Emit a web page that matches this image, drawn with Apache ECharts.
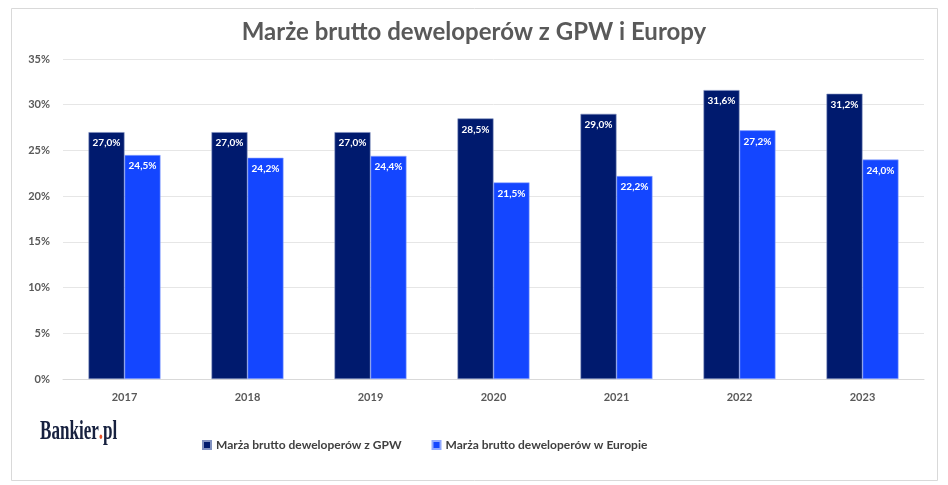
<!DOCTYPE html>
<html>
<head>
<meta charset="utf-8">
<script src="https://cdn.jsdelivr.net/npm/echarts@6/dist/echarts.min.js"></script>
<style>
  html, body { margin: 0; padding: 0; background: #fff; }
  #chart { width: 948px; height: 485px; }
</style>
</head>
<body>
<div id="chart"></div>
<script>
var years = ['2017', '2018', '2019', '2020', '2021', '2022', '2023'];
var gpw = [27.0, 27.0, 27.0, 28.5, 29.0, 31.6, 31.2];
var europe = [24.5, 24.2, 24.4, 21.5, 22.2, 27.2, 24.0];
var yTicks = [0, 5, 10, 15, 20, 25, 30, 35];

var chart = echarts.init(document.getElementById('chart'));

function pct(p) {
    return p.value.toFixed(1).replace('.', ',') + '%';
}

var labelStyle = {
    show: true,
    position: 'insideTop',
    distance: 6,
    color: '#fff',
    fontSize: 10,
    fontWeight: 'bold',
    fontFamily: 'Lato',
    formatter: pct
};

var option = {
    backgroundColor: '#fff',
    animation: false,
    title: {
        text: 'Marże brutto deweloperów z GPW i Europy',
        left: 'center',
        top: 15,
        textStyle: {
            color: '#595959',
            fontSize: 24,
            fontWeight: 'bold',
            fontFamily: 'Lato'
        }
    },
    grid: {
        left: 63,
        right: 24,
        top: 59,
        bottom: 106
    },
    legend: {
        left: 197,
        top: 434,
        itemWidth: 8,
        itemHeight: 8,
        itemGap: 30,
        icon: 'rect',
        textStyle: {
            color: '#404040',
            fontSize: 12,
            fontFamily: 'Lato',
            fontWeight: 'bold'
        },
        data: ['Marża brutto deweloperów z GPW', 'Marża brutto deweloperów w Europie']
    },
    xAxis: {
        type: 'category',
        data: years,
        axisLine: { lineStyle: { color: '#d9d9d9' } },
        axisTick: { show: false },
        axisLabel: {
            color: '#595959',
            fontSize: 11,
            fontWeight: 'bold',
            fontFamily: 'Lato',
            margin: 13
        }
    },
    yAxis: {
        type: 'value',
        min: yTicks[0],
        max: yTicks[yTicks.length - 1],
        interval: 5,
        axisLine: { show: false },
        axisTick: { show: false },
        splitLine: { lineStyle: { color: '#e6e6e6', width: 1 } },
        axisLabel: {
            color: '#595959',
            fontSize: 11,
            fontWeight: 'bold',
            fontFamily: 'Lato',
            margin: 13,
            formatter: '{value}%'
        }
    },
    graphic: [
        {
            type: 'rect',
            shape: { x: 11.5, y: 8.5, width: 926, height: 472 },
            style: { fill: 'none', stroke: '#d9d9d9', lineWidth: 1 },
            z: -1
        },
        {
            type: 'text',
            x: 40,
            y: 418,
            scaleX: 0.61,
            style: {
                text: '{a|Bankier}{b|.}{a|pl}',
                rich: {
                    a: { fontSize: 28, fontFamily: 'Liberation Serif', fontWeight: 'bold', fill: '#17213f' },
                    b: { fontSize: 28, fontFamily: 'Liberation Serif', fontWeight: 'bold', fill: '#e8542a' }
                }
            }
        }
    ],
    series: [
        {
            name: 'Marża brutto deweloperów z GPW',
            type: 'bar',
            data: gpw,
            barWidth: 36,
            barGap: '0%',
            itemStyle: { color: '#001a6e', borderColor: '#8090c0', borderWidth: 0.6 },
            label: labelStyle
        },
        {
            name: 'Marża brutto deweloperów w Europie',
            type: 'bar',
            data: europe,
            barWidth: 36,
            itemStyle: { color: '#1446ff', borderColor: '#90a8ff', borderWidth: 0.6 },
            label: labelStyle
        }
    ]
};

chart.setOption(option);
</script>
</body>
</html>
